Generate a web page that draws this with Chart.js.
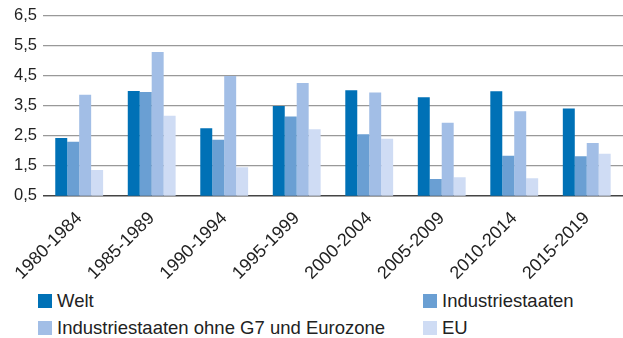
<!DOCTYPE html>
<html>
<head>
<meta charset="utf-8">
<script src="https://cdn.jsdelivr.net/npm/chart.js@4/dist/chart.umd.min.js"></script>
<style>
  body { margin: 0; background: #fff; font-family: "Liberation Sans", Arial, sans-serif; color: #222; }
  #wrap { position: relative; width: 623px; height: 338px; }
  #box { position: absolute; left: 0; top: 0; width: 623px; height: 288px; }
  .leg { position: absolute; font-size: 18.5px; line-height: 20px; white-space: nowrap; }
  .leg i { position: absolute; left: 0; top: 3px; width: 14px; height: 14px; }
  .leg span { position: absolute; top: 0; white-space: nowrap; }
</style>
</head>
<body>
<div id="wrap">
  <div id="box"><canvas id="chart"></canvas></div>
  <div id="legend"></div>
</div>
<script>
// Zeiträume und Werte je Ländergruppe
var perioden = ["1980-1984", "1985-1989", "1990-1994", "1995-1999", "2000-2004", "2005-2009", "2010-2014", "2015-2019"];
var welt = [2.43, 4.0, 2.75, 3.5, 4.02, 3.79, 3.99, 3.41];
var industriestaaten = [2.3, 3.96, 2.37, 3.15, 2.55, 1.06, 1.84, 1.82];
var ohneG7 = [3.87, 5.3, 4.5, 4.26, 3.95, 2.94, 3.32, 2.26];
var eu = [1.36, 3.17, 1.45, 2.72, 2.4, 1.12, 1.09, 1.9];
var yTicks = [0.5, 1.5, 2.5, 3.5, 4.5, 5.5, 6.5];

var serien = [
  { label: "Welt", data: welt, color: "#0071b6", left: 38, top: 291, gap: 19 },
  { label: "Industriestaaten", data: industriestaaten, color: "#6a9fd3", left: 423, top: 291, gap: 19 },
  { label: "Industriestaaten ohne G7 und Eurozone", data: ohneG7, color: "#a2bee6", left: 38, top: 318, gap: 19 },
  { label: "EU", data: eu, color: "#cfdcf4", left: 423, top: 318, gap: 19 }
];

// eigene Legende in zwei Spalten
var legend = document.getElementById('legend');
serien.forEach(function(s) {
  var d = document.createElement('div');
  d.className = 'leg';
  d.style.left = s.left + 'px';
  d.style.top = s.top + 'px';
  d.innerHTML = '<i style="background:' + s.color + '"></i><span style="left:' + s.gap + 'px">' + s.label + '</span>';
  legend.appendChild(d);
});

var ctx = document.getElementById('chart').getContext('2d');
new Chart(ctx, {
  type: 'bar',
  data: {
    labels: perioden,
    datasets: serien.map(function(s) {
      return { label: s.label, data: s.data, backgroundColor: s.color, borderWidth: 0,
               categoryPercentage: 0.66, barPercentage: 1.0 };
    })
  },
  options: {
    responsive: true,
    maintainAspectRatio: false,
    animation: false,
    layout: { padding: { top: 1, right: 0, left: 8 } },
    plugins: { legend: { display: false }, tooltip: { enabled: false } },
    scales: {
      x: {
        grid: { display: false },
        border: { display: false },
        ticks: {
          color: '#222',
          font: { family: 'Liberation Sans', size: 18 },
          minRotation: 45, maxRotation: 45, padding: 4
        }
      },
      y: {
        min: 0.5, max: 6.5,
        afterBuildTicks: function(axis) {
          axis.ticks = yTicks.map(function(v) { return { value: v }; });
        },
        grid: {
          color: function(c) { return c.tick && c.tick.value === 0.5 ? '#444' : '#999'; },
          lineWidth: function(c) { return c.tick && c.tick.value === 0.5 ? 1.5 : 1.2; },
          drawTicks: false
        },
        border: { display: false },
        ticks: {
          color: '#222',
          font: { family: 'Liberation Sans', size: 16.5 },
          padding: 6,
          callback: function(v) { return v.toFixed(1).replace('.', ','); }
        }
      }
    }
  }
});
</script>
</body>
</html>
